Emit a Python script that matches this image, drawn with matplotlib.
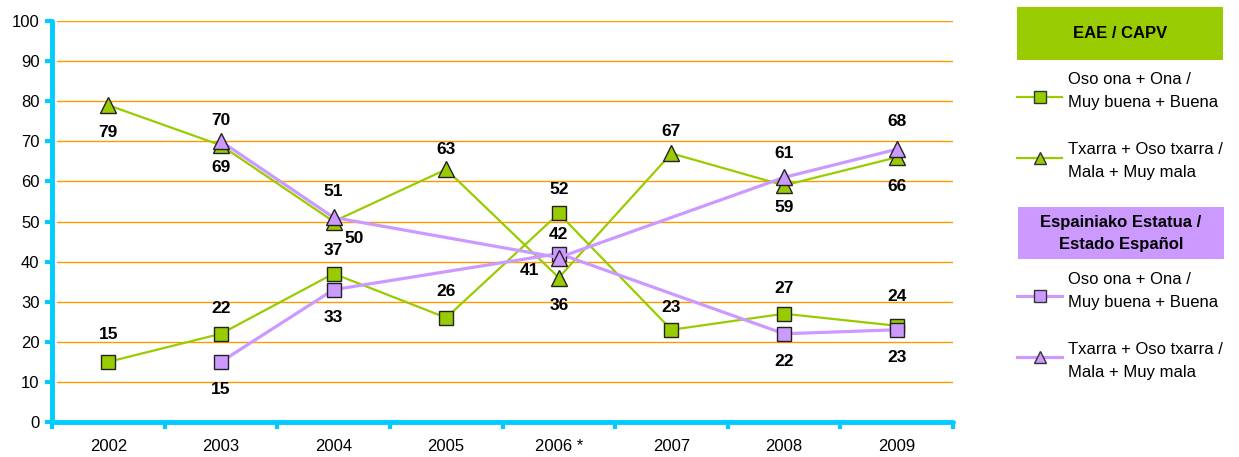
import numpy as np
import matplotlib
matplotlib.use("Agg")
import matplotlib.pyplot as plt
from matplotlib.lines import Line2D
from matplotlib.patches import Rectangle

plt.rcParams['font.family'] = ['Liberation Sans', 'DejaVu Sans']

years = ['2002', '2003', '2004', '2005', '2006 *', '2007', '2008', '2009']
eae_good = [15, 22, 37, 26, 52, 23, 27, 24]
eae_bad = [79, 69, 50, 63, 36, 67, 59, 66]
esp_good = [None, 15, 33, None, 42, None, 22, 23]
esp_bad = [None, 70, 51, None, 41, None, 61, 68]

GREEN = '#99CC00'
PURPLE = '#CC99FF'
CYAN = '#00CCFF'
ORANGE = '#FF9900'

# label offsets (points) per point
off_eae_good = [(0, 20), (0, 18), (0, 17), (0, 19), (0, 17), (0, 16), (0, 18), (0, 21)]
off_eae_bad = [(0, -20), (0, -16), (15, -12), (0, 14), (0, -20), (0, 16), (0, -16), (0, -21)]
off_esp_good = [None, (0, -20), (0, -20), None, (0, 14), None, (0, -20), (0, -20)]
off_esp_bad = [None, (0, 15), (0, 19), None, (-21, -9), None, (0, 17), (0, 20)]

fig = plt.figure(figsize=(12.39, 4.57), dpi=100)
ax = fig.add_axes([52 / 1239, 1 - 422 / 457, (953 - 52) / 1239, (422 - 21) / 457])

x = np.arange(len(years))


def draw(vals, offs, color, marker, lw, ms, z):
    xs = [i for i, v in enumerate(vals) if v is not None]
    ys = [v for v in vals if v is not None]
    ax.plot(xs, ys, color=color, lw=lw, marker=marker, ms=ms,
            mfc=color, mec='#222222', mew=1.0, zorder=z, clip_on=False)
    for i, v in zip(xs, ys):
        ax.annotate(str(v), (i, v), xytext=offs[i], textcoords='offset points',
                    ha='center', va='center', fontsize=12.5, fontweight='bold',
                    color='black', zorder=10)


draw(eae_good, off_eae_good, GREEN, 's', 1.6, 10.5, 3)
draw(eae_bad, off_eae_bad, GREEN, '^', 1.6, 12, 3)
draw(esp_good, off_esp_good, PURPLE, 's', 2.3, 10.5, 4)
draw(esp_bad, off_esp_bad, PURPLE, '^', 2.3, 12, 4)

ax.set_xlim(-0.5, len(years) - 0.5)
ax.set_ylim(0, 100)
ax.set_yticks(np.arange(0, 101, 10))
ax.set_xticks(x)
ax.set_xticklabels(years)
ax.set_xticks(np.arange(-0.5, len(years), 1), minor=True)
ax.tick_params(axis='x', which='major', length=0, pad=12, labelsize=12)
ax.tick_params(axis='x', which='minor', length=5, width=3, color=CYAN)
ax.tick_params(axis='y', length=5, width=3, color=CYAN, labelsize=12, pad=4)
for yv in range(10, 101, 10):
    ax.axhline(yv, color=ORANGE, lw=1.0, zorder=1, xmin=0.006)
for s in ['top', 'right']:
    ax.spines[s].set_visible(False)
for s in ['left', 'bottom']:
    ax.spines[s].set_color(CYAN)
    ax.spines[s].set_linewidth(3.5)
    ax.spines[s].set_capstyle('round')

# legend
W, H = 1239.0, 457.0


def fx(px):
    return px / W


def fy(py):
    return 1 - py / H


def header(x0, y0, x1, y1, color, text, lines_y):
    fig.patches.append(Rectangle((fx(x0), fy(y1)), fx(x1) - fx(x0), fy(y0) - fy(y1),
                                 transform=fig.transFigure, facecolor=color,
                                 edgecolor='none'))
    for t, yy in zip(text, lines_y):
        fig.text(fx((x0 + x1) / 2), fy(yy), t, ha='center', va='center',
                 fontsize=12, fontweight='bold', color='black')


def entry(color, marker, lw, my, lines, lines_y):
    fig.add_artist(Line2D([fx(1017), fx(1062)], [fy(my), fy(my)], color=color, lw=lw,
                          transform=fig.transFigure))
    fig.add_artist(Line2D([fx(1040)], [fy(my)], marker=marker, ms=8.5, mfc=color,
                          mec='#333333', mew=1.0, color=color, transform=fig.transFigure))
    for t, yy in zip(lines, lines_y):
        fig.text(fx(1068), fy(yy), t, ha='left', va='center', fontsize=12, color='black')


header(1017, 7, 1223, 60, GREEN, ['EAE / CAPV'], [33])
entry(GREEN, 's', 1.6, 97, ['Oso ona + Ona /', 'Muy buena + Buena'], [79, 102])
entry(GREEN, '^', 1.6, 158, ['Txarra + Oso txarra /', 'Mala + Muy mala'], [149, 172])
header(1018, 207, 1224, 259, PURPLE, ['Espainiako Estatua /', 'Estado Español'], [222, 245])
entry(PURPLE, 's', 2.3, 296, ['Oso ona + Ona /', 'Muy buena + Buena'], [279, 302])
entry(PURPLE, '^', 2.3, 357, ['Txarra + Oso txarra /', 'Mala + Muy mala'], [349, 372])

fig.savefig('out.png', dpi=100)
